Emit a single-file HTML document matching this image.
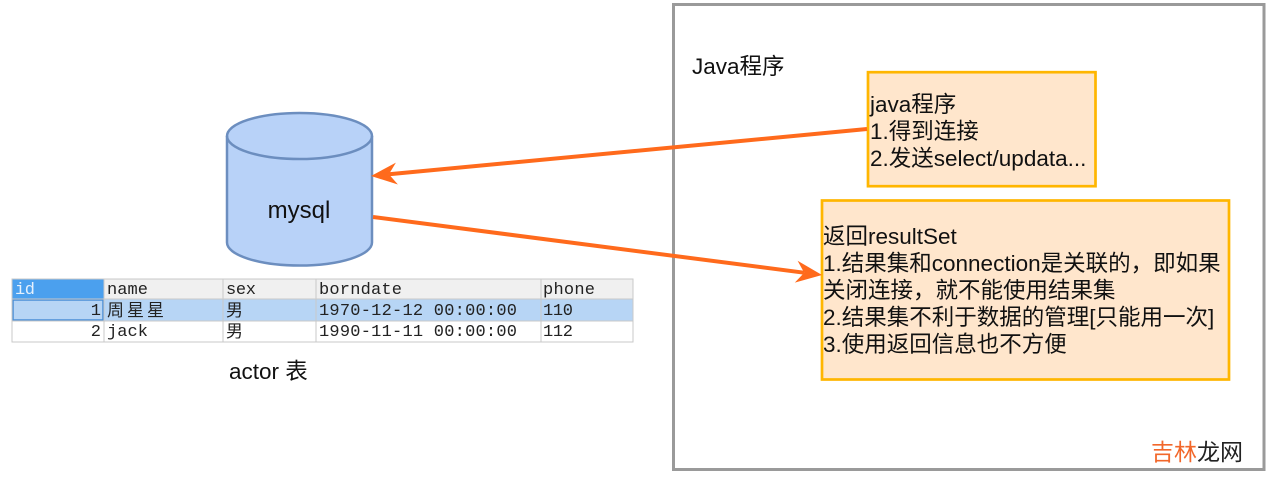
<!DOCTYPE html>
<html>
<head>
<meta charset="utf-8">
<style>
  html,body{margin:0;padding:0;background:#fff;}
  body{width:1285px;height:486px;overflow:hidden;position:relative;}
  svg{position:absolute;left:0;top:0;}
  .t{font-family:"Liberation Sans","Noto Sans CJK SC",sans-serif;fill:#111;}
  .m{font-family:"Liberation Mono","Noto Sans CJK SC",monospace;fill:#222;font-size:17px;}
  .c{font-family:"Noto Sans CJK SC","WenQuanYi Zen Hei",sans-serif;fill:#222;font-size:17px;}
</style>
</head>
<body>
<svg width="1285" height="486" viewBox="0 0 1285 486" xmlns="http://www.w3.org/2000/svg">
  <!-- outer frame -->
  <rect x="673.5" y="4.5" width="590.5" height="465" fill="#fff" stroke="#9a9a9a" stroke-width="3"/>
  <text class="t" x="692" y="74" font-size="22.5">Java程序</text>

  <!-- cylinder -->
  <path d="M227,136 A72.5,23 0 0 1 372,136 L372,242.5 A72.5,23 0 0 1 227,242.5 Z" fill="#b8d2f8" stroke="#6c8ebf" stroke-width="2.5"/>
  <path d="M227,136 A72.5,23 0 0 0 372,136" fill="none" stroke="#6c8ebf" stroke-width="2.5"/>
  <text class="t" x="299" y="218" font-size="24" text-anchor="middle">mysql</text>

  <!-- table -->
  <g>
    <rect x="12" y="279" width="621" height="63" fill="#fff" stroke="#c9c9c9" stroke-width="1"/>
    <rect x="12" y="279" width="621" height="20" fill="#f0f0f0"/>
    <rect x="12" y="279" width="92" height="20" fill="#4ba0ee"/>
    <rect x="12" y="299" width="621" height="22" fill="#b7d5f5"/>
    <rect x="13" y="300" width="90" height="20" fill="none" stroke="#4a8fd6" stroke-width="1.5"/>
    <g stroke="#c9c9c9" stroke-width="1">
      <line x1="12" y1="299" x2="633" y2="299"/>
      <line x1="12" y1="321" x2="633" y2="321"/>
      <line x1="12" y1="342" x2="633" y2="342"/>
      <line x1="104" y1="279" x2="104" y2="342"/>
      <line x1="223" y1="279" x2="223" y2="342"/>
      <line x1="316" y1="279" x2="316" y2="342"/>
      <line x1="541" y1="279" x2="541" y2="342"/>
      <line x1="633" y1="279" x2="633" y2="342"/>
      <line x1="12" y1="279" x2="633" y2="279"/>
      <line x1="12" y1="279" x2="12" y2="342"/>
    </g>
    <!-- header -->
    <text class="m" x="15" y="294" style="fill:#e6f1fd" textLength="20">id</text>
    <text class="m" x="107" y="294" textLength="41">name</text>
    <text class="m" x="226" y="294" textLength="30">sex</text>
    <text class="m" x="319" y="294" textLength="83">borndate</text>
    <text class="m" x="543" y="294" textLength="52">phone</text>
    <!-- row1 -->
    <text class="m" x="101" y="315" text-anchor="end">1</text>
    <text class="c" x="107" y="316" letter-spacing="3">周星星</text>
    <text class="c" x="226" y="316">男</text>
    <text class="m" x="319" y="315" textLength="198">1970-12-12 00:00:00</text>
    <text class="m" x="543" y="315" textLength="30">110</text>
    <!-- row2 -->
    <text class="m" x="101" y="336" text-anchor="end">2</text>
    <text class="m" x="107" y="336" textLength="41">jack</text>
    <text class="c" x="226" y="337">男</text>
    <text class="m" x="319" y="336" textLength="198">1990-11-11 00:00:00</text>
    <text class="m" x="543" y="336" textLength="30">112</text>
  </g>
  <text class="t" x="229" y="379" font-size="22.5">actor 表</text>

  <!-- box 1 -->
  <rect x="868" y="72.2" width="227.5" height="114" fill="#ffe6cc" stroke="#ffb600" stroke-width="2.7"/>
  <text class="t" font-size="22.5">
    <tspan x="870" y="112">java程序</tspan>
    <tspan x="870" y="139">1.得到连接</tspan>
    <tspan x="870" y="166">2.发送select/updata...</tspan>
  </text>

  <!-- box 2 -->
  <rect x="822" y="200.5" width="407" height="179" fill="#ffe6cc" stroke="#ffb600" stroke-width="2.7"/>
  <text class="t" font-size="22.5">
    <tspan x="823" y="244">返回resultSet</tspan>
    <tspan x="823" y="271">1.结果集和connection是关联的，即如果</tspan>
    <tspan x="823" y="298">关闭连接，就不能使用结果集</tspan>
    <tspan x="823" y="325">2.结果集不利于数据的管理[只能用一次]</tspan>
    <tspan x="823" y="352">3.使用返回信息也不方便</tspan>
  </text>

  <!-- arrows -->
  <line x1="867" y1="129" x2="389" y2="174.3" stroke="#ff6a1c" stroke-width="4"/>
  <polygon points="371,176 397.9,184.5 388.9,174.3 395.9,162.6" fill="#ff6a1c"/>
  <line x1="373" y1="217" x2="804" y2="272.7" stroke="#ff6a1c" stroke-width="4"/>
  <polygon points="822,275 794.8,282.6 804.2,272.7 797.6,260.8" fill="#ff6a1c"/>

  <!-- watermark -->
  <text x="1151" y="460" font-size="23" style="font-family:'Noto Sans CJK SC','WenQuanYi Zen Hei',sans-serif;"><tspan fill="#f2672a">吉林</tspan><tspan fill="#222">龙网</tspan></text>
</svg>
</body>
</html>
